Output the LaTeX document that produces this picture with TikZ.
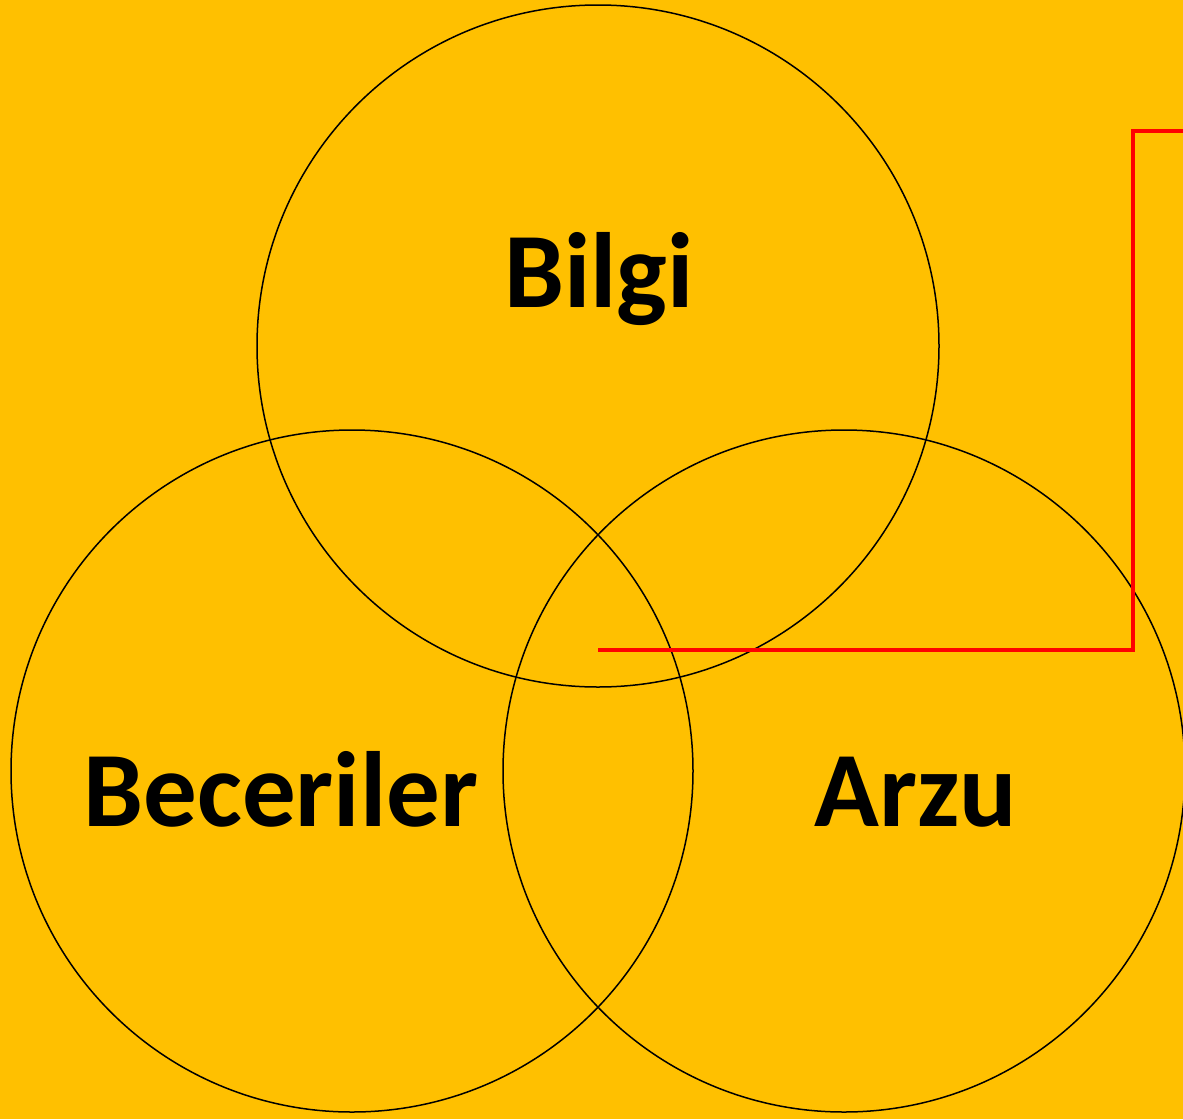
\documentclass[tikz,border=0pt]{standalone}
\usepackage{fontspec}
\setmainfont{Carlito}
\definecolor{bg}{HTML}{FFC000}
\definecolor{redline}{HTML}{FF0000}
\begin{document}
\begin{tikzpicture}[x=1pt,y=-1pt,
  venn/.style={draw=black,line width=1.5pt},
  lbl/.style={anchor=base,inner sep=0pt,font=\fontsize{107}{118}\selectfont\bfseries},
  pointer/.style={draw=redline,line width=3.5pt}]
\useasboundingbox (0,0) rectangle (1183,1119);
\clip (0,0) rectangle (1183,1119);
\fill[bg] (0,0) rectangle (1183,1119);
\coordinate (ctop) at (598,346);
\coordinate (cleft) at (352,771);
\coordinate (cright) at (844,771);
\draw[venn] (ctop) circle[radius=341];
\draw[venn] (cleft) circle[radius=341];
\draw[venn] (cright) circle[radius=341];
\node[lbl] (bilgi) at (599,307) {Bilgi};
\node[lbl] (beceriler) at (281,826) {Beceriler};
\node[lbl] (arzu) at (916,826) {Arzu};
\coordinate (p0) at (598,650);
\coordinate (p1) at (1133,650);
\coordinate (p2) at (1133,131);
\coordinate (p3) at (1190,131);
\draw[pointer] (p0) -- (p1) -- (p2) -- (p3);
\end{tikzpicture}
\end{document}
